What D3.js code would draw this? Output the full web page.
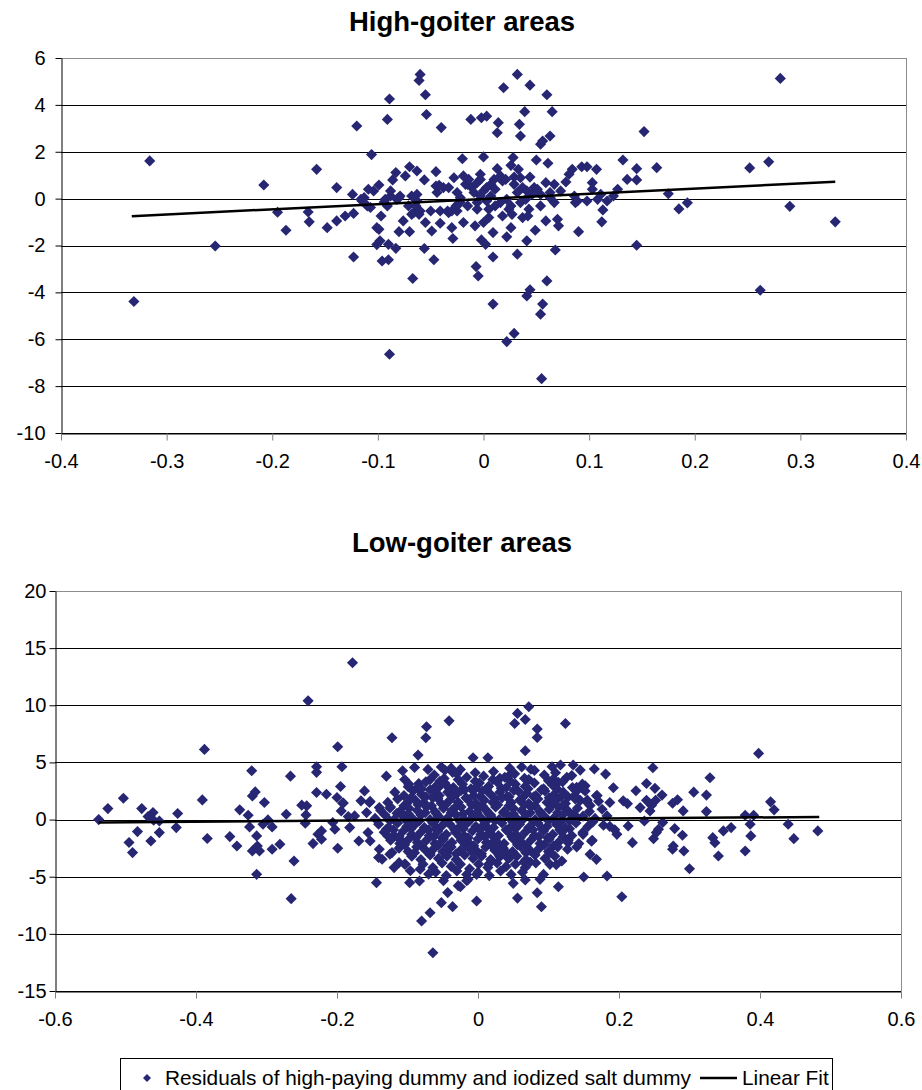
<!DOCTYPE html>
<html>
<head>
<meta charset="utf-8">
<script src="https://cdn.jsdelivr.net/npm/d3@7"></script>
<style>
body{margin:0;background:#fff;}
svg text{font-family:"Liberation Sans",Arial,sans-serif;fill:#000;}
</style>
</head>
<body>
<div id="canvas"></div>
<script>
var W = 922, H = 1090;
var dotColor = '#262673';

// tick values
var highXTicks = [-0.4,-0.3,-0.2,-0.1,0,0.1,0.2,0.3,0.4];
var highYTicks = [-10,-8,-6,-4,-2,0,2,4,6];
var lowXTicks = [-0.6,-0.4,-0.2,0,0.2,0.4,0.6];
var lowYTicks = [-15,-10,-5,0,5,10,15,20];

// fitted lines (endpoints)
var highFit = [[-0.333,-0.75],[0.333,0.72]];
var lowFit = [[-0.538,-0.26],[0.484,0.23]];

var legendLabels = ['Residuals of high-paying dummy and iodized salt dummy','Linear Fit'];

// residual pairs [x, y], high-goiter areas
var highPoints = [
[-0.060,5.30],[-0.061,5.04],[-0.055,4.43],[-0.089,4.25],[0.032,5.30],[0.019,4.73],[0.044,4.84],[0.060,4.43],
[-0.120,3.10],[-0.091,3.38],[-0.054,3.59],[-0.040,3.03],[-0.012,3.38],[-0.002,3.45],[0.003,3.52],[0.014,3.24],
[0.013,2.81],[0.039,3.71],[0.034,3.17],[0.035,2.67],[0.065,3.71],[0.063,2.67],[0.054,2.32],[0.056,2.46],[0.152,2.86],[-0.106,1.88],
[-0.020,1.70],[0.000,1.78],[0.028,1.75],[0.026,1.42],[0.050,1.65],[0.061,1.51],[0.132,1.65],[0.145,1.28],[-0.070,1.36],
[-0.063,1.18],[-0.083,1.11],[-0.045,1.15],[-0.028,0.89],[-0.019,0.97],[-0.003,1.04],[0.013,1.28],[0.021,0.82],[0.029,0.92],
[0.044,0.92],[0.084,1.25],[0.093,1.36],[0.098,1.36],[0.107,1.25],[0.081,1.04],[0.136,0.82],[0.145,0.80],
[-0.139,0.47],[-0.124,0.18],[-0.109,0.40],[-0.099,0.58],[-0.086,0.80],[-0.074,0.97],[-0.056,0.80],[-0.042,0.57],[-0.033,0.47],
[-0.015,0.61],[-0.006,0.68],[0.007,0.61],[0.018,0.75],[0.037,0.47],[0.048,0.47],[0.059,0.68],[0.067,0.61],[0.078,0.71],
[0.103,0.68],[0.103,0.40],[0.127,0.40],
[-0.104,0.33],[-0.088,0.33],[-0.079,0.11],[-0.063,0.18],[-0.044,0.26],[-0.025,0.26],[-0.009,0.26],[0.000,0.33],[0.011,0.40],
[0.032,0.26],[0.041,0.33],[0.054,0.18],[0.063,0.26],[0.086,0.11],[0.111,0.18],[0.123,0.11],
[-0.116,-0.03],[-0.110,-0.31],[-0.094,-0.14],[-0.091,-0.31],[-0.082,-0.03],[-0.071,-0.31],[-0.063,-0.10],[-0.050,-0.53],
[-0.041,-0.53],[-0.033,-0.60],[-0.025,-0.53],[-0.015,-0.31],[-0.006,-0.17],[0.003,-0.10],[0.016,-0.17],[0.026,-0.31],
[0.035,-0.17],[0.043,-0.45],[0.054,-0.31],[0.067,-0.17],[0.089,-0.10],[0.098,-0.10],[0.108,-0.03],[0.117,-0.10],[0.087,-0.17],
[-0.148,-1.24],[-0.139,-0.95],[-0.131,-0.74],[-0.123,-0.63],[-0.097,-0.74],[-0.076,-0.95],[-0.066,-0.60],[-0.061,-0.67],
[-0.055,-1.02],[-0.049,-1.38],[-0.041,-1.05],[-0.030,-1.24],[-0.019,-1.02],[-0.008,-1.16],[0.000,-1.02],[0.005,-0.81],
[0.018,-0.74],[0.026,-1.24],[0.037,-0.81],[0.059,-0.95],[0.070,-0.88],[0.071,-1.16],[0.112,-0.99],[0.113,-0.48],
[-0.101,-1.24],[-0.099,-1.31],[-0.080,-1.41],[-0.070,-1.41],[-0.029,-1.70],[0.009,-1.45],[0.022,-1.63],[0.049,-1.35],
[0.090,-1.41],[-0.002,-1.76],[0.002,-1.95],[0.041,-1.80],[-0.101,-1.96],[-0.098,-1.80],[-0.090,-1.95],[-0.083,-2.12],[0.145,-1.99],
[-0.123,-2.49],[-0.096,-2.66],[-0.090,-2.61],[-0.056,-2.13],[-0.047,-2.61],[0.009,-2.49],[0.032,-2.37],[0.068,-2.19],
[-0.007,-2.90],[-0.005,-3.30],[-0.067,-3.41],[0.060,-3.51],[0.044,-3.89],[0.041,-4.15],[0.009,-4.50],[0.056,-4.50],
[0.054,-4.93],[0.029,-5.75],[0.022,-6.10],[0.055,-7.68],[0.262,-3.91],[-0.331,-4.39],[-0.254,-2.02],[-0.089,-6.64],
[-0.316,1.61],[-0.208,0.58],[-0.158,1.25],[-0.195,-0.58],[-0.187,-1.35],[-0.166,-0.57],[-0.165,-0.99],
[0.281,5.13],[0.252,1.31],[0.270,1.57],[0.290,-0.33],[0.333,-0.99],[0.193,-0.18],[0.185,-0.44],[0.175,0.21],[0.164,1.32],
[-0.113,0.04],[-0.115,-0.10],[-0.107,-0.38],[-0.093,-0.03],[-0.088,0.11],[-0.080,0.04],[-0.068,0.11],[-0.064,-0.31],
[-0.068,-0.67],[-0.060,-0.53],[-0.045,0.54],[-0.038,0.47],[-0.034,-0.53],[-0.030,-0.53],[-0.026,-0.31],[-0.022,-0.17],
[-0.022,0.04],[-0.017,0.61],[-0.014,0.82],[-0.011,0.47],[-0.006,-0.45],[-0.003,0.11],[0.003,0.47],[0.007,0.11],
[0.010,0.82],[0.016,0.97],[0.022,-0.03],[0.024,-0.45],[0.027,-0.67],[0.029,0.61],[0.033,1.25],[0.040,-0.03],
[0.046,0.18],[0.051,0.40],[0.035,0.89],[-0.003,0.82],[0.005,-0.45],[0.011,-0.31],[0.063,0.04],[0.073,0.33],[0.042,-0.74]
];

// residual pairs [x, y], low-goiter areas
var lowPoints = [
[-0.538,0.00],[-0.525,0.96],[-0.503,1.87],[-0.495,-2.01],[-0.490,-2.89],[-0.483,-1.05],[-0.477,0.96],[-0.468,0.26],
[-0.464,-1.87],[-0.461,0.61],[-0.460,-0.06],[-0.452,-0.12],[-0.452,-1.14],[-0.426,0.53],[-0.428,-0.70],[-0.391,1.72],
[-0.384,-1.66],[-0.352,-1.49],[-0.342,-2.31],[-0.338,0.85],[-0.326,0.38],[-0.324,-0.64],[-0.320,2.07],[-0.316,2.42],
[-0.314,-1.43],[-0.320,-2.74],[-0.313,-2.31],[-0.310,-2.74],[-0.314,-4.79],[-0.303,1.49],[-0.305,-0.41],[-0.298,-0.03],
[-0.292,-0.64],[-0.292,-2.60],[-0.281,-2.16],[-0.272,0.47],[-0.265,-6.92],[-0.261,-3.62],[-0.250,1.26],[-0.243,1.20],
[-0.244,0.41],[-0.245,-0.32],[-0.234,-2.10],[-0.229,2.37],[-0.227,-1.28],[-0.222,-0.99],[-0.222,-1.72],[-0.215,2.22],
[-0.206,-0.26],[-0.203,-0.85],[-0.200,1.93],[-0.199,-2.51],[-0.195,2.89],[-0.194,0.76],[-0.192,1.43],[-0.184,0.26],
[-0.182,-0.70],[-0.175,0.32],[-0.169,-1.87],[-0.166,1.64],[-0.161,2.51],[-0.158,0.61],[-0.154,1.49],[-0.156,-1.14],
[-0.144,-5.52],[-0.140,1.05],[-0.140,-2.60],[-0.136,-3.47],[-0.130,-0.85],[-0.128,-1.43],[-0.119,-4.20],[-0.122,-2.89],
[-0.112,-3.77],[-0.103,-3.91],[-0.097,-5.52],[-0.083,-5.37],[-0.080,-8.88],[-0.068,-8.15],[-0.064,-11.65],[-0.052,-7.27],
[-0.043,-6.39],[-0.036,-7.62],[-0.111,-1.72],[-0.107,0.32],
[-0.388,6.14],[-0.321,4.27],[-0.266,3.80],[-0.241,10.39],[-0.178,13.72],[-0.229,4.62],[-0.229,4.13],[-0.199,6.37],
[-0.193,4.62],[-0.122,7.16],[-0.130,3.80],[-0.107,4.27],[-0.104,3.51],[-0.085,5.64],[-0.090,4.56],[-0.071,4.39],
[-0.073,8.12],[-0.074,7.16],[-0.041,8.64],[-0.047,4.33],[-0.036,4.13],[-0.084,3.16],[-0.055,2.87],[-0.099,2.87],[-0.083,2.58],
[0.072,9.87],[0.056,9.29],[0.067,8.76],[0.052,8.41],[0.084,7.92],[0.084,7.19],[0.124,8.41],[0.067,6.02],[0.398,5.79],
[-0.007,5.41],[0.014,5.41],[0.248,4.53],[0.329,3.66],[0.165,4.42],[0.181,3.98],[0.105,4.62],[0.117,4.77],[0.135,4.77],
[0.145,4.33],[0.192,2.78],[0.224,2.52],[0.239,3.16],[0.251,2.73],[0.261,2.14],[0.306,2.40],[0.324,2.14],
[0.415,1.55],[0.420,0.85],[0.440,-0.41],[0.448,-1.67],[0.482,-0.99],[0.391,0.38],[0.379,0.38],[0.386,-0.41],[0.387,-1.43],
[0.379,-2.75],[0.359,-0.70],[0.348,-0.99],[0.333,-1.58],[0.336,-2.02],[0.341,-3.19],[0.324,0.70],[0.300,-4.30],[0.292,-2.75],
[0.290,-1.37],[0.279,-0.79],[0.276,-2.60],[0.277,-2.31],[0.291,0.76],[0.283,1.73],[0.276,1.43],[0.262,-0.26],[0.253,-1.14],
[0.249,-1.67],[0.256,-0.85],[0.244,0.76],[0.236,-0.12],[0.230,1.05],[0.219,-2.02],[0.213,-0.56],[0.204,-6.75],[0.206,1.64],
[0.197,-1.29],[0.187,1.49],[0.183,-4.94],[0.183,0.32],[0.168,-3.48],[0.168,2.08],[0.159,-3.04],[0.162,-1.81],[0.150,-5.03],
[0.149,-1.29],[0.152,2.95],[0.140,2.51],[0.135,0.47],[0.128,-2.02],[0.119,-3.63],[0.114,-5.88],[0.090,-7.63],[0.084,-6.40],
[0.088,-5.23],[0.093,-4.80],[0.067,-5.29],[0.056,-6.87],[0.050,-5.58],[-0.002,-7.13],[0.102,-3.92],[0.074,-3.71],[0.065,-3.71],
[0.045,-3.33],[0.031,-3.25],[0.015,-3.92],[-0.002,-4.80],[-0.014,-5.23],[-0.025,-5.88],
[0.252,1.68],[0.239,1.68],[0.246,1.24],[0.212,1.39],[0.169,2.10],[0.155,1.70],[0.194,-0.90],[0.178,-0.50],[0.187,-0.60],
[0.149,-1.20],[0.161,-1.90],[0.111,-3.95],[0.107,3.56],[0.114,3.27],[0.133,3.85],[0.140,2.83],[0.149,2.69],[0.128,1.97],
[0.145,1.68],[0.159,1.24],[0.140,0.23],[0.163,-0.20],[0.140,-2.40],
[-0.025,4.39],[0.031,3.61],[0.045,3.90],[-0.153,1.59],[-0.125,1.01],[-0.191,1.45],[-0.153,-1.88],[-0.141,-3.32],[-0.125,-3.03],
[-0.096,-4.48],[-0.104,-3.90],[-0.082,-4.34],[-0.070,-4.77],[-0.049,-5.35],[-0.028,-5.78],[-0.016,-5.35],
[0.045,4.50],[0.062,4.60],[0.075,4.40],[-0.052,4.60],[-0.038,4.50],
// dense core
[-0.062,3.9],[-0.048,3.6],[-0.030,4.0],[-0.016,3.7],[-0.004,4.1],[0.008,3.8],[0.022,4.2],[0.038,3.7],[0.052,4.0],[0.066,3.6],[0.080,4.3],[0.094,3.9],[0.110,4.1],[0.126,3.7],
[-0.068,3.5],[-0.054,3.35],[-0.028,3.5],[-0.004,3.35],[0.021,3.5],[0.046,3.35],[0.072,3.5],[0.100,3.4],
[-0.098,3.1],[-0.086,2.8],[-0.074,3.3],[-0.060,2.9],[-0.047,3.2],[-0.035,2.8],[-0.022,3.1],[-0.010,2.7],[0.002,3.2],[0.015,2.9],[0.027,3.3],[0.040,2.8],[0.053,3.1],[0.067,2.9],[0.080,3.2],[0.093,2.7],[0.106,3.0],[0.120,3.3],[0.134,2.8],[0.148,3.1],
[-0.080,2.7],[-0.061,2.6],[-0.041,2.75],[-0.024,2.55],[-0.004,2.7],[0.012,2.6],[0.033,2.75],[0.051,2.55],[0.071,2.7],[0.090,2.6],[0.112,2.7],
[-0.118,2.4],[-0.105,2.1],[-0.092,2.5],[-0.080,2.2],[-0.068,2.6],[-0.055,2.1],[-0.043,2.4],[-0.031,2.2],[-0.019,2.6],[-0.006,2.1],[0.006,2.5],[0.018,2.2],[0.031,2.4],[0.044,2.0],[0.057,2.5],[0.069,2.3],[0.082,2.1],[0.095,2.5],[0.108,2.2],[0.121,2.4],[0.137,2.1],[0.152,2.5],
[-0.095,1.9],[-0.074,2.0],[-0.057,1.85],[-0.036,2.0],[-0.017,1.9],[0.003,2.0],[0.024,1.85],[0.041,2.0],[0.063,1.9],[0.079,2.0],[0.101,1.9],[0.118,2.0],
[-0.128,1.5],[-0.114,1.8],[-0.101,1.4],[-0.089,1.7],[-0.077,1.5],[-0.064,1.9],[-0.052,1.4],[-0.040,1.7],[-0.028,1.5],[-0.015,1.8],[-0.003,1.4],[0.009,1.7],[0.021,1.5],[0.034,1.9],[0.047,1.5],[0.059,1.7],[0.072,1.4],[0.085,1.8],[0.098,1.5],[0.111,1.7],[0.124,1.4],[0.138,1.8],[0.155,1.5],[0.171,1.6],
[-0.105,1.2],[-0.085,1.3],[-0.066,1.2],[-0.046,1.3],[-0.030,1.2],[-0.009,1.3],[0.006,1.2],[0.028,1.3],[0.044,1.2],[0.066,1.3],[0.081,1.2],[0.104,1.3],[0.120,1.2],
[-0.138,0.8],[-0.124,1.1],[-0.111,0.7],[-0.098,1.0],[-0.086,0.8],[-0.073,1.1],[-0.061,0.7],[-0.049,1.0],[-0.037,0.8],[-0.024,1.1],[-0.012,0.7],[0.000,1.0],[0.012,0.8],[0.025,1.1],[0.037,0.7],[0.050,1.0],[0.062,0.8],[0.075,1.1],[0.088,0.7],[0.101,0.9],[0.114,1.1],[0.127,0.8],[0.141,1.0],[0.158,0.7],[0.176,0.9],
[-0.115,0.55],[-0.099,0.5],[-0.075,0.6],[-0.059,0.5],[-0.038,0.6],[-0.021,0.5],[-0.001,0.6],[0.015,0.5],[0.036,0.6],[0.050,0.5],[0.074,0.6],[0.089,0.5],[0.113,0.6],[0.131,0.5],
[-0.146,0.1],[-0.132,0.4],[-0.119,0.0],[-0.106,0.3],[-0.093,0.1],[-0.081,0.4],[-0.068,0.0],[-0.056,0.3],[-0.044,0.1],[-0.031,0.4],[-0.019,0.0],[-0.007,0.3],[0.005,0.1],[0.018,0.4],[0.030,0.0],[0.043,0.3],[0.055,0.1],[0.068,0.4],[0.081,0.0],[0.094,0.3],[0.107,0.1],[0.120,0.4],[0.134,0.0],[0.149,0.3],[0.166,0.1],
[-0.125,-0.1],[-0.100,-0.2],[-0.083,-0.1],[-0.062,-0.2],[-0.046,-0.1],[-0.025,-0.2],[-0.012,-0.1],[0.011,-0.2],[0.024,-0.1],[0.049,-0.2],[0.062,-0.1],[0.079,-0.2],[0.100,-0.1],[0.117,-0.2],[0.130,-0.1],
[-0.141,-0.4],[-0.127,-0.7],[-0.114,-0.3],[-0.101,-0.6],[-0.089,-0.4],[-0.076,-0.7],[-0.064,-0.3],[-0.052,-0.6],[-0.040,-0.4],[-0.027,-0.7],[-0.015,-0.3],[-0.003,-0.6],[0.009,-0.4],[0.022,-0.7],[0.034,-0.3],[0.047,-0.6],[0.059,-0.4],[0.072,-0.7],[0.085,-0.3],[0.098,-0.6],[0.111,-0.4],[0.124,-0.7],[0.139,-0.3],[0.156,-0.6],
[-0.120,-0.9],[-0.095,-0.8],[-0.070,-0.9],[-0.058,-0.8],[-0.033,-0.9],[-0.021,-0.8],[0.003,-0.9],[0.015,-0.8],[0.040,-0.9],[0.053,-0.8],[0.078,-0.9],[0.091,-0.8],[0.116,-0.9],[0.130,-0.8],
[-0.133,-1.1],[-0.119,-1.4],[-0.106,-1.0],[-0.094,-1.3],[-0.081,-1.1],[-0.069,-1.4],[-0.057,-1.0],[-0.045,-1.3],[-0.032,-1.1],[-0.020,-1.4],[-0.008,-1.0],[0.004,-1.3],[0.017,-1.1],[0.029,-1.4],[0.042,-1.0],[0.054,-1.3],[0.067,-1.1],[0.080,-1.4],[0.093,-1.0],[0.106,-1.3],[0.119,-1.1],[0.133,-1.4],[0.149,-1.1],
[-0.112,-1.5],[-0.088,-1.6],[-0.063,-1.5],[-0.051,-1.6],[-0.026,-1.5],[-0.014,-1.6],[0.010,-1.5],[0.023,-1.6],[0.048,-1.5],[0.060,-1.6],[0.086,-1.5],[0.099,-1.6],[0.121,-1.5],
[-0.124,-1.8],[-0.111,-2.1],[-0.098,-1.7],[-0.086,-2.0],[-0.073,-1.8],[-0.061,-2.1],[-0.049,-1.7],[-0.037,-2.0],[-0.024,-1.8],[-0.012,-2.1],[0.000,-1.7],[0.012,-2.0],[0.025,-1.8],[0.037,-2.1],[0.050,-1.7],[0.062,-2.0],[0.075,-1.8],[0.088,-2.1],[0.101,-1.7],[0.114,-2.0],[0.128,-1.8],[0.143,-2.1],
[-0.104,-2.2],[-0.080,-2.3],[-0.056,-2.2],[-0.043,-2.3],[-0.018,-2.2],[-0.006,-2.3],[0.018,-2.2],[0.031,-2.3],[0.056,-2.2],[0.068,-2.3],[0.094,-2.2],[0.107,-2.3],
[-0.112,-2.5],[-0.099,-2.8],[-0.087,-2.4],[-0.074,-2.7],[-0.062,-2.5],[-0.050,-2.8],[-0.038,-2.4],[-0.025,-2.7],[-0.013,-2.5],[-0.001,-2.8],[0.011,-2.4],[0.024,-2.7],[0.036,-2.5],[0.049,-2.8],[0.061,-2.4],[0.074,-2.7],[0.087,-2.5],[0.100,-2.8],[0.113,-2.4],[0.127,-2.6],
[-0.090,-2.9],[-0.068,-3.0],[-0.044,-2.9],[-0.031,-3.0],[-0.007,-2.9],[0.005,-3.0],[0.030,-2.9],[0.042,-3.0],[0.068,-2.9],[0.080,-3.0],[0.102,-2.9],
[-0.094,-3.2],[-0.081,-3.5],[-0.068,-3.1],[-0.056,-3.4],[-0.044,-3.2],[-0.031,-3.5],[-0.019,-3.1],[-0.007,-3.4],[0.005,-3.2],[0.018,-3.5],[0.030,-3.1],[0.043,-3.4],[0.055,-3.2],[0.068,-3.5],[0.081,-3.1],[0.095,-3.4],[0.109,-3.2],
[-0.078,-3.9],[-0.064,-4.2],[-0.051,-3.8],[-0.038,-4.1],[-0.025,-3.9],[-0.012,-4.3],[0.001,-3.9],[0.014,-4.2],[0.027,-3.8],[0.040,-4.1],[0.053,-3.9],[0.067,-4.2],[0.082,-3.8],
[-0.060,-4.6],[-0.045,-4.9],[-0.030,-4.5],[-0.016,-4.8],[0.000,-4.6],[0.016,-4.9],[0.032,-4.5],[0.047,-4.8],[0.063,-4.6]
];

var svg = d3.select('#canvas').append('svg')
    .attr('width', W)
    .attr('height', H);

var diamond = d3.symbol().type(d3.symbolSquare).size(62);

function drawPanel(o){
    var x = d3.scaleLinear().domain(o.xDomain).range([o.l, o.r]);
    var y = d3.scaleLinear().domain(o.yDomain).range([o.b, o.t]);
    var g = svg.append('g');

    g.append('text')
        .attr('x', W/2 + 1).attr('y', o.titleY)
        .attr('text-anchor','middle')
        .style('font-size','27.5px').style('font-weight','bold')
        .text(o.title);

    // gridlines, top one is the grey frame
    g.selectAll('.grid').data(o.yTicks).enter().append('line')
        .attr('x1', o.l).attr('x2', o.r)
        .attr('y1', function(d){ return Math.round(y(d)) + 0.5; })
        .attr('y2', function(d){ return Math.round(y(d)) + 0.5; })
        .attr('stroke', function(d){ return d === o.yDomain[1] ? '#8c8c8c' : '#000'; })
        .attr('stroke-width', 1);
    g.append('line')
        .attr('x1', o.r + 0.5).attr('x2', o.r + 0.5)
        .attr('y1', o.t).attr('y2', o.b)
        .attr('stroke','#8c8c8c');

    var yAxis = d3.axisLeft(y).tickValues(o.yTicks).tickSize(6).tickSizeOuter(0)
        .tickPadding(o.yPad).tickFormat(function(d){ return String(d); });
    var ya = g.append('g').attr('transform','translate(' + (o.l + 0.5) + ',0)').call(yAxis);

    var xAxis = d3.axisBottom(x).tickValues(o.xTicks).tickSize(7).tickSizeOuter(0)
        .tickPadding(o.xPad).tickFormat(function(d){ return String(d); });
    var xa = g.append('g').attr('transform','translate(0,' + (Math.round(o.b) + 0.5) + ')').call(xAxis);

    [ya, xa].forEach(function(a){
        a.attr('font-family', null).attr('font-size', null);
        a.selectAll('text').style('font-size','20px');
        a.select('.domain').attr('stroke','#000');
    });
    xa.selectAll('.tick line').attr('stroke','#808080');

    g.selectAll('.dot').data(o.points).enter().append('path')
        .attr('d', diamond)
        .attr('transform', function(d){ return 'translate(' + x(d[0]) + ',' + y(d[1]) + ') rotate(45)'; })
        .attr('fill', dotColor);

    g.append('path')
        .datum(o.fit)
        .attr('d', d3.line().x(function(d){ return x(d[0]); }).y(function(d){ return y(d[1]); }))
        .attr('fill','none')
        .attr('stroke','#000')
        .attr('stroke-width', 2.5);
}

drawPanel({
    title: 'High-goiter areas', titleY: 31,
    xDomain: [-0.4, 0.4], yDomain: [-10, 6],
    l: 61, r: 906, t: 58, b: 433,
    xTicks: highXTicks, yTicks: highYTicks, xPad: 13, yPad: 10,
    points: highPoints, fit: highFit
});

drawPanel({
    title: 'Low-goiter areas', titleY: 552,
    xDomain: [-0.6, 0.6], yDomain: [-15, 20],
    l: 55, r: 901, t: 591, b: 991,
    xTicks: lowXTicks, yTicks: lowYTicks, xPad: 13, yPad: 3,
    points: lowPoints, fit: lowFit
});

// legend
var lg = svg.append('g');
lg.append('rect')
    .attr('x', 120.5).attr('y', 1058.5)
    .attr('width', 712).attr('height', 40)
    .attr('fill','#fff').attr('stroke','#000');
lg.append('path')
    .attr('d', d3.symbol().type(d3.symbolSquare).size(32))
    .attr('transform','translate(147,1078) rotate(45)')
    .attr('fill', dotColor);
lg.append('text')
    .attr('x', 165).attr('y', 1085)
    .style('font-size','20.8px')
    .text(legendLabels[0]);
lg.append('line')
    .attr('x1', 700).attr('x2', 737)
    .attr('y1', 1078).attr('y2', 1078)
    .attr('stroke','#000').attr('stroke-width', 2.5);
lg.append('text')
    .attr('x', 742).attr('y', 1085)
    .style('font-size','20.8px')
    .text(legendLabels[1]);
</script>
</body>
</html>
